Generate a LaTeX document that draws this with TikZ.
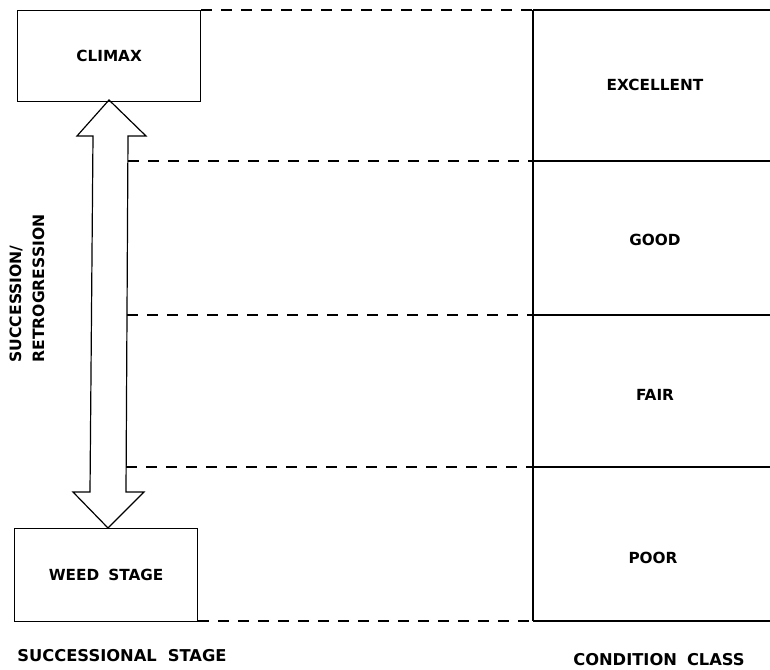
\documentclass[tikz,border=0pt]{standalone}
\usepackage{fontspec}
\setmainfont{DejaVu Sans}
\begin{document}
\begin{tikzpicture}[x=1pt,y=-1pt,
  line width=1.2pt,
  lbl/.style={font=\bfseries\fontsize{15.3}{18}\selectfont, inner sep=0pt},
  axlbl/.style={font=\bfseries\fontsize{16.3}{19}\selectfont, inner sep=0pt},
  stagebox/.style={draw, minimum width=183pt, minimum height=91pt, inner sep=0pt, anchor=north west, font=\bfseries\fontsize{15.3}{18}\selectfont},
  dashline/.style={line width=1.1pt, dash pattern=on 11pt off 9pt},
  bigarrow/.style={draw, line width=1.2pt, line join=miter}
]
\useasboundingbox (0,0) rectangle (770,669);

% left boxes
\node[stagebox] (climax) at (17,10) {CLIMAX};
\node[stagebox, minimum height=93pt] (weed) at (14,528) {WEED\hspace{9pt}STAGE};

% double arrow
\coordinate (tipT) at (109,100);
\coordinate (tipB) at (108,528);
\draw[bigarrow] (tipT) -- (146,136) -- (128,136) -- (126,492) -- (144,492) -- (tipB)
  -- (73,492) -- (90,492) -- (93,136) -- (77,136) -- cycle;

% right column lines
\coordinate (r0) at (533,10);
\coordinate (r1) at (533,161);
\coordinate (r2) at (533,315);
\coordinate (r3) at (533,467);
\coordinate (r4) at (533,621);
\draw (r0) -- (r4);
\foreach \c in {r0,r1,r2,r3,r4} \draw (\c) -- ++(240,0);

% dashed guides
\coordinate (s1) at (128,161);
\coordinate (s2) at (127,315);
\coordinate (s3) at (126,467);
\draw[dashline] (climax.north east |- r0) -- (r0);
\draw[dashline] (s1) -- (r1);
\draw[dashline] (s2) -- (r2);
\draw[dashline] (s3) -- (r3);
\draw[dashline] (weed.south east |- r4) -- (r4);

% class labels
\node[lbl] (exc) at (655,85) {EXCELLENT};
\node[lbl] (good) at (655,240) {GOOD};
\node[lbl] (fair) at (655,395) {FAIR};
\node[lbl] (poor) at (653,558) {POOR};

% axis labels
\node[axlbl] (succstage) at (122,656) {SUCCESSIONAL\hspace{11pt}STAGE};
\node[axlbl] (condclass) at (659,660) {CONDITION\hspace{10pt}CLASS};
\node[rotate=90, align=left, anchor=west, inner sep=0pt, font=\bfseries\fontsize{15.6}{23}\selectfont] (succ) at (27,363) {SUCCESSION/\\RETROGRESSION};
\end{tikzpicture}
\end{document}
